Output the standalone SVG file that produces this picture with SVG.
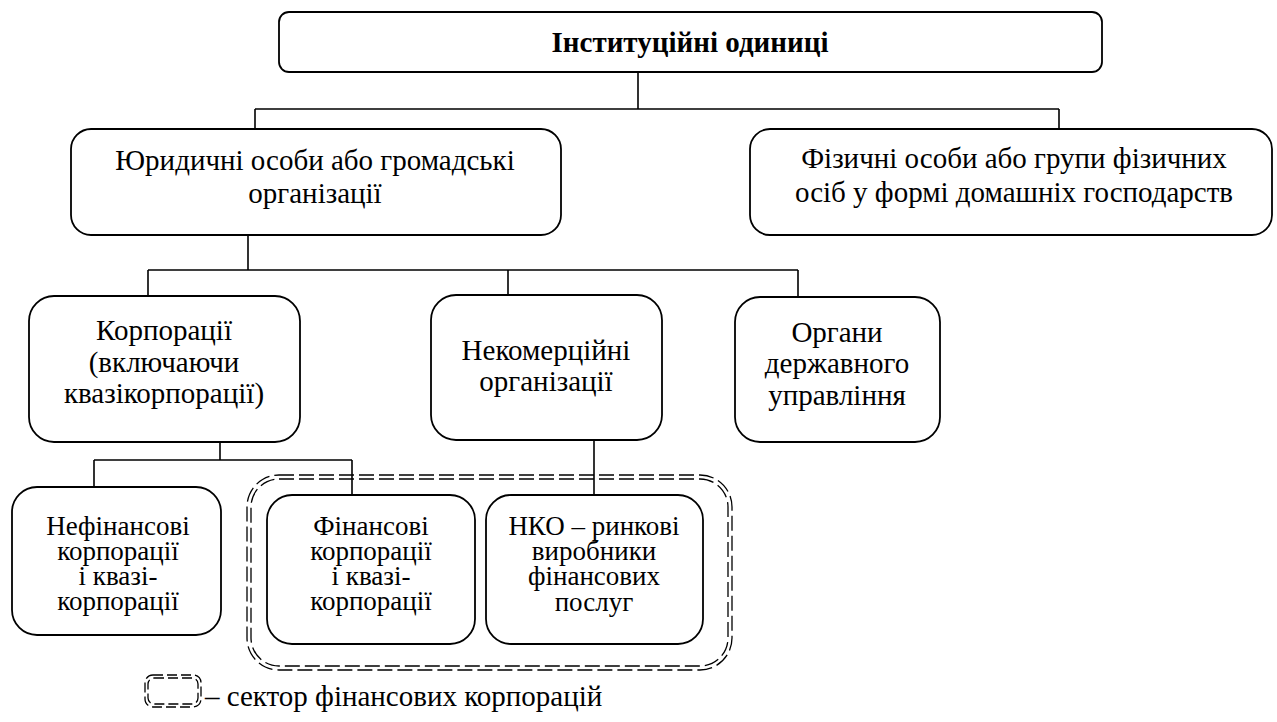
<svg xmlns="http://www.w3.org/2000/svg" width="1277" height="722" viewBox="0 0 1277 722">
<style>
  .box { fill: #fff; stroke: #000; stroke-width: 1.8; }
  .conn { fill: none; stroke: #000; stroke-width: 1.6; }
  .dash { fill: none; stroke: #000; stroke-width: 1.3; stroke-dasharray: 15 5; }
  .t29 { font-size: 29px; }
  .t27 { font-size: 27px; }
  .bold { font-weight: bold; }
</style>
<rect width="1277" height="722" fill="#fff"/>

<g id="sector-financial">
  <rect class="dash" x="247" y="475" width="485" height="195" rx="32"/>
  <rect class="dash" x="251" y="479" width="477" height="187" rx="28"/>
</g>

<g id="connectors">
  <path class="conn" d="M638 72 V109 M255 109 H1059 M255 109 V129 M1059 109 V129"/>
  <path class="conn" d="M248 235 V270 M148 270 H798 M148 270 V296 M508 270 V295 M798 270 V297"/>
  <path class="conn" d="M220 442 V460 M94 460 H352 M94 460 V487 M352 460 V495"/>
  <path class="conn" d="M594 440 V495"/>
</g>

<g font-family="'Liberation Serif', 'Times New Roman', Times, serif" text-anchor="middle" fill="#000">
<g id="node-institutional-units">
  <rect class="box" x="279" y="12" width="823" height="60" rx="10"/>
  <text class="t29 bold" x="690" y="52">Інституційні одиниці</text>
</g>

<g id="node-legal-entities">
  <rect class="box" x="71" y="129" width="490" height="106" rx="20"/>
  <text class="t29" x="315" y="170">Юридичні особи або громадські</text>
  <text class="t29" x="315" y="203">організації</text>
</g>

<g id="node-households">
  <rect class="box" x="750" y="129" width="522" height="106" rx="20"/>
  <text class="t29" x="1014" y="168">Фізичні особи або групи фізичних</text>
  <text class="t29" x="1014" y="202">осіб у формі домашніх господарств</text>
</g>

<g id="node-corporations">
  <rect class="box" x="29" y="296" width="271" height="146" rx="25"/>
  <text class="t29" x="164" y="340">Корпорації</text>
  <text class="t29" x="164" y="372">(включаючи</text>
  <text class="t29" x="164" y="403">квазікорпорації)</text>
</g>

<g id="node-nonprofit">
  <rect class="box" x="431" y="295" width="231" height="145" rx="25"/>
  <text class="t29" x="546" y="360">Некомерційні</text>
  <text class="t29" x="546" y="391">організації</text>
</g>

<g id="node-government">
  <rect class="box" x="735" y="297" width="205" height="145" rx="25"/>
  <text class="t29" x="837" y="342">Органи</text>
  <text class="t29" x="837" y="373">державного</text>
  <text class="t29" x="837" y="405">управління</text>
</g>

<g id="node-nonfinancial">
  <rect class="box" x="12" y="487" width="209" height="148" rx="25"/>
  <text class="t27" x="118" y="535">Нефінансові</text>
  <text class="t27" x="118" y="560">корпорації</text>
  <text class="t27" x="118" y="585">і квазі-</text>
  <text class="t27" x="118" y="610">корпорації</text>
</g>

<g id="node-financial">
  <rect class="box" x="267" y="495" width="208" height="149" rx="25"/>
  <text class="t27" x="371" y="535">Фінансові</text>
  <text class="t27" x="371" y="560">корпорації</text>
  <text class="t27" x="371" y="585">і квазі-</text>
  <text class="t27" x="371" y="610">корпорації</text>
</g>

<g id="node-nko-market">
  <rect class="box" x="486" y="495" width="217" height="149" rx="25"/>
  <text class="t27" x="594" y="535">НКО – ринкові</text>
  <text class="t27" x="594" y="560">виробники</text>
  <text class="t27" x="594" y="585">фінансових</text>
  <text class="t27" x="594" y="611">послуг</text>
</g>

<g id="legend">
  <rect class="dash" x="145" y="675" width="56" height="32" rx="8" style="stroke-dasharray: 10 4"/>
  <rect class="dash" x="148" y="678" width="50" height="26" rx="6" style="stroke-dasharray: 10 4"/>
  <text class="t29" x="205" y="706" text-anchor="start">– сектор фінансових корпорацій</text>
</g>
</g>
</svg>
